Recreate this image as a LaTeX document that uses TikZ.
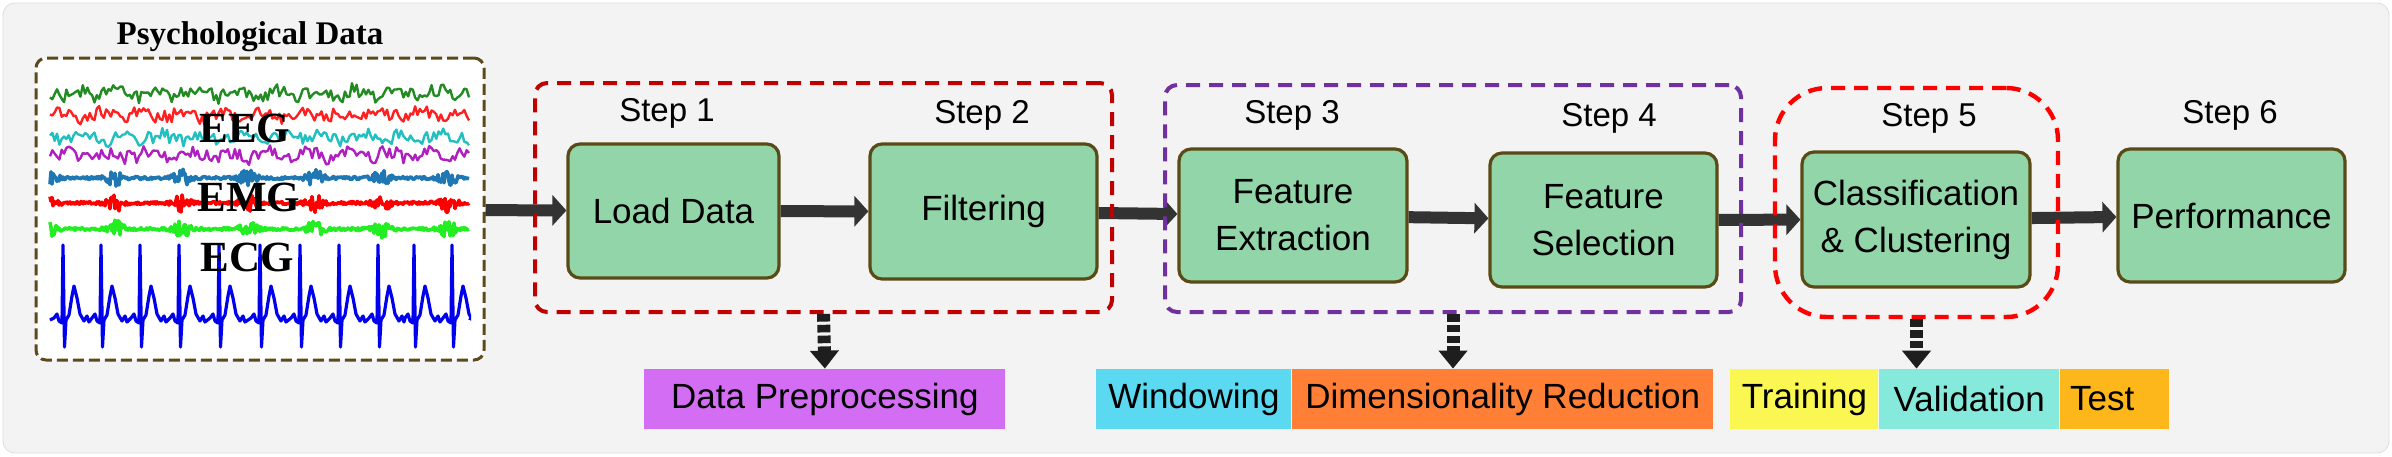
\documentclass[tikz,border=0pt]{standalone}
\usepackage{fontspec}
\setmainfont{Liberation Sans}
\newfontfamily\serifface{Liberation Serif}
\usetikzlibrary{arrows.meta}
\definecolor{bggray}{HTML}{F3F3F3}
\definecolor{bgline}{HTML}{DDDDDD}
\definecolor{boxgreen}{HTML}{92D5A9}
\definecolor{boxline}{HTML}{5A4B16}
\definecolor{flowgray}{HTML}{333333}
\definecolor{downblack}{HTML}{1E1E1E}
\definecolor{grpred}{HTML}{C00000}
\definecolor{grppurple}{HTML}{7030A0}
\definecolor{grpbright}{HTML}{FF0000}
\definecolor{psychline}{HTML}{5C4A1C}
\definecolor{dpviolet}{HTML}{D36EF4}
\definecolor{wincyan}{HTML}{5BD9F0}
\definecolor{dimorange}{HTML}{FF7F37}
\definecolor{trainyellow}{HTML}{FBF752}
\definecolor{validaqua}{HTML}{85EADC}
\definecolor{testamber}{HTML}{FDB71B}
\definecolor{eegA}{HTML}{228B22}
\definecolor{eegB}{HTML}{FF2020}
\definecolor{eegC}{HTML}{22BFC0}
\definecolor{eegD}{HTML}{B020C0}
\definecolor{emgA}{HTML}{1F77B4}
\definecolor{emgB}{HTML}{FF0000}
\definecolor{emgC}{HTML}{22EE22}
\definecolor{ecgblue}{HTML}{0000EE}
\begin{document}
\begin{tikzpicture}[x=0.5pt,y=-0.5pt,
  declare function={bump(\t)=0.5+0.5*cos(5.405*(\t-115));
    bumpsq(\t)=bump(\t)*bump(\t);
    burst(\t)=bumpsq(\t)*bumpsq(\t)*bumpsq(\t);},
  stepbox/.style={draw=boxline,fill=boxgreen,line width=1.6pt,rounded corners=6pt,align=center,inner sep=0pt,font=\fontsize{17.5}{23.5}\selectfont},
  steplabel/.style={font=\fontsize{16.5}{20}\selectfont},
  group/.style={line width=2pt,dash pattern=on 7pt off 4.5pt,rounded corners=6pt},
  chip/.style={anchor=west,inner sep=0pt,minimum height=30pt,font=\fontsize{17.5}{21}\selectfont},
  flow/.style={draw=flowgray,line width=6pt,-{Triangle[length=7pt,width=15pt]}},
  down/.style={draw=downblack,line width=6.5pt,dash pattern=on 3.8pt off 1.6pt,-{Triangle[length=9pt,width=14pt]}},
  signal/.style={line width=1pt,line join=round},
  siglabel/.style={font=\serifface\bfseries\fontsize{21.5}{24}\selectfont}]
\useasboundingbox (0,0) rectangle (2392,456);
\filldraw[fill=bggray,draw=bgline,rounded corners=6pt] (3,3) rectangle (2389,453);

\node[font=\serifface\bfseries\fontsize{16.5}{20}\selectfont] (title) at (250,37) {Psychological Data};
\node[draw=psychline,fill=white,line width=1.5pt,dash pattern=on 5.5pt off 2.5pt,rounded corners=5pt,minimum width=224pt,minimum height=151pt] (psych) at (260,209) {};

\begin{scope}
\clip (48,70) rectangle (471,355);
\pgfmathsetseed{12}
\foreach \base/\col in {93/eegA,115/eegB,137/eegC,155/eegD}
  \draw[signal,draw=\col,line width=1.2pt] plot[domain=50:469,samples=180] (\x,{\base+6*rand+3*sin(9*\x+\base*7)+2*sin(23*\x+\base)});
\foreach \base/\col in {178/emgA,203/emgB,229/emgC}
  \draw[signal,draw=\col,line width=1.8pt] plot[domain=50:469,samples=420] (\x,{\base+rand*(1.5+8*burst(\x))});
\draw[signal,draw=ecgblue,line width=1.6pt] (50,320)
  \foreach \r in {63,101,140,179,219,260,300,339,378,414,452} {
    -- ({\r-9},318) -- ({\r-6},314) -- ({\r-4},321) -- ({\r-1},323) -- (\r,245) -- ({\r+1.5},347)
    -- ({\r+3},320) -- ({\r+6},315) -- ({\r+9},296) -- ({\r+11},286) -- ({\r+14},298)
    -- ({\r+17},314) -- ({\r+21},321) -- ({\r+24},316) -- ({\r+26},322)
  } -- (469,318);
\end{scope}
\node[siglabel] (eeg) at (245,128) {EEG};
\node[siglabel] (emg) at (249,197) {EMG};
\node[siglabel] (ecg) at (247,257) {ECG};

\node[steplabel] (s1) at (667,113) {Step 1};
\node[steplabel] (s2) at (982,115) {Step 2};
\node[steplabel] (s3) at (1292,115) {Step 3};
\node[steplabel] (s4) at (1609,118) {Step 4};
\node[steplabel] (s5) at (1929,118) {Step 5};
\node[steplabel] (s6) at (2230,115) {Step 6};

\node[stepbox,minimum width=105.5pt,minimum height=67pt] (load) at (673.5,211) {Load Data};
\node[stepbox,minimum width=113.5pt,minimum height=67.5pt] (filter) at (983.5,211.5) {Filtering};
\node[stepbox,minimum width=114pt,minimum height=66.5pt] (fe) at (1293,215.5) {Feature\\Extraction};
\node[stepbox,minimum width=113.5pt,minimum height=67pt] (fs) at (1603.5,220) {Feature\\Selection};
\node[stepbox,minimum width=114pt,minimum height=67.5pt] (cc) at (1916,219.5) {Classification\\\& Clustering};
\node[stepbox,minimum width=113.5pt,minimum height=66.5pt] (perf) at (2231.5,215.5) {Performance};

\foreach \a/\b in {psych/load,load/filter,filter/fe,fe/fs,fs/cc,cc/perf}
  \draw[flow] (\a) -- (\b);

\node[group,draw=grpred,minimum width=288.5pt,minimum height=114.5pt] (prep) at (823.5,197.5) {};
\node[group,draw=grppurple,minimum width=288pt,minimum height=113.5pt] (feat) at (1453,198.5) {};
\node[group,draw=grpbright,line width=2.2pt,rounded corners=26pt,minimum width=141.5pt,minimum height=114.5pt] (model) at (1916.5,202.5) {};

\node[chip,fill=dpviolet,minimum width=180.5pt] (dp) at (644,399) {Data Preprocessing};
\node[chip,fill=wincyan,minimum width=97.5pt] (win) at (1096,399) {Windowing};
\node[chip,fill=dimorange,minimum width=210.5pt] (dim) at (win.east) {Dimensionality Reduction};
\node[chip,fill=trainyellow,minimum width=74pt] (train) at (1730,399) {Training};
\node[chip,fill=validaqua,minimum width=90pt] (val) at (train.east) {Validation};
\node[chip,fill=testamber,inner xsep=5pt,text width=44.5pt,align=left] (test) at (val.east) {Test};

\draw[down] (prep.south) -- (dp.north);
\draw[down] (feat.south) -- (feat.south |- dim.north);
\draw[down] (model.south) -- (model.south |- val.north);
\end{tikzpicture}
\end{document}
